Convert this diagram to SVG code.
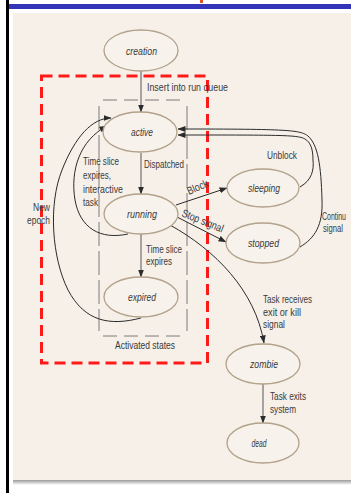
<svg xmlns="http://www.w3.org/2000/svg" width="351" height="493" viewBox="0 0 351 493">
<style>
.st ellipse{fill:#f7f2ec;stroke:#b3a18a;stroke-width:1.3}
.nl{font-family:"Liberation Sans",Arial,sans-serif;font-size:11px;font-style:italic;fill:#3a3a3a;text-anchor:middle}
.lb{font-family:"Liberation Sans",Arial,sans-serif;font-size:11px;fill:#3a3a3a}
.cn{fill:none;stroke:#2b2b2b;stroke-width:1}
.cv{fill:none;stroke:#555;stroke-width:1}
</style>
<defs>
<marker id="ah" viewBox="0 0 8 6" refX="7.5" refY="3" markerWidth="8" markerHeight="6" markerUnits="userSpaceOnUse" orient="auto">
<path d="M0,0 L8,3 L0,6 Z" fill="#2b2b2b"/>
</marker>
<linearGradient id="sh" x1="0" y1="0" x2="0" y2="1">
<stop offset="0" stop-color="#9a9a9a"/>
<stop offset="1" stop-color="#ffffff"/>
</linearGradient>
</defs>
<g id="frame">
<rect x="0" y="0" width="351" height="493" fill="#ffffff"/>
<rect x="13" y="13" width="338" height="468" fill="#f6f0e9"/>
<rect x="13" y="480" width="338" height="5" fill="url(#sh)"/>
<rect x="6" y="0" width="3" height="493" fill="#000"/>
<rect x="9" y="4" width="342" height="5" fill="#3434b8"/>
<rect x="200" y="0" width="3" height="3" fill="#e05020"/>
</g>
<g id="activated-box" fill="none" stroke="#7a7a7a" stroke-width="1">
<line x1="103" y1="100" x2="183" y2="100" stroke-dasharray="14 7"/>
<line x1="99" y1="106" x2="99" y2="331" stroke-dasharray="24 5"/>
<line x1="187" y1="106" x2="187" y2="331" stroke-dasharray="24 5"/>
<line x1="103" y1="336" x2="183" y2="336" stroke-dasharray="14 7"/>
<text class="lb" x="145" y="349" text-anchor="middle" textLength="60" lengthAdjust="spacingAndGlyphs" stroke="none">Activated states</text>
</g>
<g id="red-box">
<rect x="41.5" y="76" width="166" height="287" fill="none" stroke="#ff1a1a" stroke-width="3" stroke-dasharray="11 6"/>
</g>
<g id="connectors">
<line class="cv" x1="141" y1="71" x2="141" y2="112" marker-end="url(#ah)"/>
<line class="cv" x1="141" y1="153" x2="141" y2="194" marker-end="url(#ah)"/>
<line class="cv" x1="141" y1="234" x2="141" y2="277" marker-end="url(#ah)"/>
<line class="cv" x1="263" y1="384" x2="263" y2="423" marker-end="url(#ah)"/>
<path class="cn" d="M141,318 C110,326 85,322 68,290 C52,258 48,205 62,170 C75,137 92,118 111,118" marker-end="url(#ah)"/>
<path class="cn" d="M128,234 C100,240 80,228 75,200 C70,170 80,140 107,126" marker-end="url(#ah)"/>
<line class="cn" x1="176" y1="205" x2="227" y2="188" marker-end="url(#ah)"/>
<line class="cn" x1="177" y1="217" x2="226" y2="242" marker-end="url(#ah)"/>
<path class="cn" d="M170,225 C215,250 255,290 264,343" marker-end="url(#ah)"/>
<path class="cn" d="M300,187 C312,180 314,170 313,160 C313,148 310,142 305,139 C298,135 285,135 178,135" marker-end="url(#ah)"/>
<path class="cn" d="M300,247 C315,238 323,225 322,200 C321,165 318,145 308,136 C300,130 290,129 178,129" marker-end="url(#ah)"/>
</g>
<g id="node-creation" class="st"><ellipse cx="141" cy="50.5" rx="37" ry="20.5"/><text class="nl" x="141.5" y="55" textLength="31" lengthAdjust="spacingAndGlyphs">creation</text></g>
<g id="node-active" class="st"><ellipse cx="140" cy="132" rx="37" ry="20"/><text class="nl" x="142" y="136" textLength="22" lengthAdjust="spacingAndGlyphs">active</text></g>
<g id="node-running" class="st"><ellipse cx="141" cy="214" rx="37" ry="20"/><text class="nl" x="142" y="218" textLength="30" lengthAdjust="spacingAndGlyphs">running</text></g>
<g id="node-expired" class="st"><ellipse cx="141" cy="297" rx="37" ry="20"/><text class="nl" x="142" y="301" textLength="28" lengthAdjust="spacingAndGlyphs">expired</text></g>
<g id="node-sleeping" class="st"><ellipse cx="263" cy="188" rx="36" ry="19"/><text class="nl" x="264" y="192" textLength="32" lengthAdjust="spacingAndGlyphs">sleeping</text></g>
<g id="node-stopped" class="st"><ellipse cx="263" cy="243" rx="37" ry="20"/><text class="nl" x="263.5" y="247" textLength="31" lengthAdjust="spacingAndGlyphs">stopped</text></g>
<g id="node-zombie" class="st"><ellipse cx="263" cy="364" rx="37" ry="20"/><text class="nl" x="264" y="368" textLength="28" lengthAdjust="spacingAndGlyphs">zombie</text></g>
<g id="node-dead" class="st"><ellipse cx="263" cy="443" rx="36" ry="20"/><text class="nl" x="259" y="447" textLength="15" lengthAdjust="spacingAndGlyphs">dead</text></g>
<g id="labels">
<text class="lb" x="147" y="91" textLength="81" lengthAdjust="spacingAndGlyphs">Insert into run queue</text>
<text class="lb" x="144" y="168" textLength="40" lengthAdjust="spacingAndGlyphs">Dispatched</text>
<text class="lb" x="83" y="165" textLength="36" lengthAdjust="spacingAndGlyphs">Time slice</text>
<text class="lb" x="83" y="179" textLength="28" lengthAdjust="spacingAndGlyphs">expires,</text>
<text class="lb" x="83" y="193" textLength="40" lengthAdjust="spacingAndGlyphs">interactive</text>
<text class="lb" x="83" y="206" textLength="15" lengthAdjust="spacingAndGlyphs">task</text>
<text class="lb" x="50" y="211" text-anchor="end" textLength="17" lengthAdjust="spacingAndGlyphs">New</text>
<text class="lb" x="50" y="224" text-anchor="end" textLength="23" lengthAdjust="spacingAndGlyphs">epoch</text>
<text class="lb" x="146" y="253" textLength="36" lengthAdjust="spacingAndGlyphs">Time slice</text>
<text class="lb" x="146" y="265" textLength="26" lengthAdjust="spacingAndGlyphs">expires</text>
<text class="lb" x="267" y="159" textLength="30" lengthAdjust="spacingAndGlyphs">Unblock</text>
<text class="lb" transform="translate(189,195) rotate(-24)" textLength="22" lengthAdjust="spacingAndGlyphs">Block</text>
<text class="lb" transform="translate(181,216) rotate(22)" textLength="44" lengthAdjust="spacingAndGlyphs">Stop signal</text>
<text class="lb" x="322" y="220" textLength="24" lengthAdjust="spacingAndGlyphs">Continu</text>
<text class="lb" x="323" y="232" textLength="20" lengthAdjust="spacingAndGlyphs">signal</text>
<text class="lb" x="263" y="303" textLength="49" lengthAdjust="spacingAndGlyphs">Task receives</text>
<text class="lb" x="263" y="316" textLength="38" lengthAdjust="spacingAndGlyphs">exit or kill</text>
<text class="lb" x="263" y="328" textLength="22" lengthAdjust="spacingAndGlyphs">signal</text>
<text class="lb" x="270" y="400" textLength="36" lengthAdjust="spacingAndGlyphs">Task exits</text>
<text class="lb" x="270" y="413" textLength="26" lengthAdjust="spacingAndGlyphs">system</text>
</g>
</svg>
